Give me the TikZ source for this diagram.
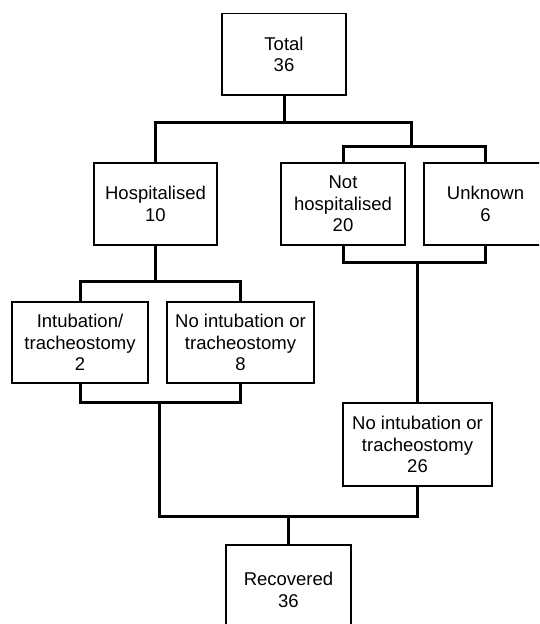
\documentclass[tikz,border=0pt]{standalone}
\usepackage{fontspec}
\setmainfont{Liberation Sans}
\begin{document}
\begin{tikzpicture}[x=1pt,y=-1pt,
  box/.style={draw=black,line width=1.7pt,rectangle,inner sep=0pt,align=center,
    font=\fontsize{18.5}{21.5}\selectfont},
  conn/.style={draw=black,line width=3pt,line join=miter}]
\useasboundingbox (0,0) rectangle (539,624);
\fill[white] (0,0) rectangle (539,624);
\clip (0,0) rectangle (539,624);

\node[box,minimum width=124pt,minimum height=81.5pt] (total) at (284,54.25) {Total\\36};
\node[box,minimum width=123pt,minimum height=82pt] (hosp) at (155.5,204) {Hospitalised\\10};
\node[box,minimum width=124pt,minimum height=82pt] (nothosp) at (343,204) {Not\\hospitalised\\20};
\node[box,minimum width=123pt,minimum height=82pt] (unknown) at (485.5,204) {Unknown\\6};
\node[box,minimum width=136pt,minimum height=81pt] (intub) at (80,342.5) {Intubation/\\tracheostomy\\2};
\node[box,minimum width=147pt,minimum height=81pt] (nointub) at (240.5,342.5) {No intubation or\\tracheostomy\\8};
\node[box,minimum width=149pt,minimum height=83pt] (nointubb) at (417.5,444.5) {No intubation or\\tracheostomy\\26};
\node[box,minimum width=125pt,minimum height=90pt] (recovered) at (288.5,590) {Recovered\\36};

\coordinate (j1) at (284,122);
\coordinate (j2) at (411,146.5);
\coordinate (j3) at (155.5,281.5);
\coordinate (j4) at (159,402);
\coordinate (j5) at (288.5,516.5);
\coordinate (j6) at (417.5,262);

\draw[conn] (total.south) -- (j1);
\draw[conn] (hosp.north) |- (j1) -| (j2);
\draw[conn] (nothosp.north) |- (j2) -| (unknown.north);

\draw[conn] (hosp.south) -- (j3);
\draw[conn] (intub.north) |- (j3) -| (nointub.north);

\draw[conn] (nothosp.south) |- (j6) -| (unknown.south);
\draw[conn] (j6) -- (nointubb.north);

\draw[conn] (intub.south) |- (j4) -| (nointub.south);
\draw[conn] (j4) |- (j5) -| (nointubb.south);
\draw[conn] (j5) -- (recovered.north);
\end{tikzpicture}
\end{document}
